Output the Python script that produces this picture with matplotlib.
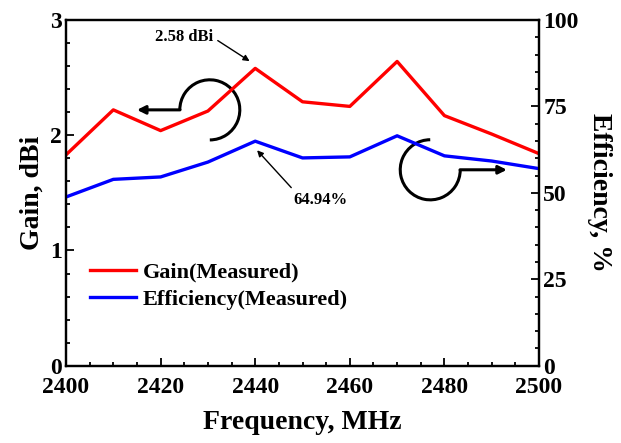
import matplotlib.pyplot as plt
from matplotlib.patches import Arc
from matplotlib.ticker import MultipleLocator

plt.rcParams['font.family'] = ['Liberation Serif', 'DejaVu Serif']
plt.rcParams['font.weight'] = 'bold'

# Данные
freq = [2400, 2410, 2420, 2430, 2440, 2450, 2460, 2470, 2480, 2490, 2500]
gain = [1.83, 2.22, 2.04, 2.21, 2.58, 2.29, 2.25, 2.64, 2.17, 2.01, 1.84]
efficiency = [48.8, 53.9, 54.6, 58.9, 64.94, 60.1, 60.4, 66.5, 60.7, 59.2, 57.0]

fig = plt.figure(figsize=(6.21, 4.43), dpi=100)
ax = fig.add_axes([0.1063, 0.1745, 0.7617, 0.7804])
ax2 = ax.twinx()

l1, = ax.plot(freq, gain, color='#ff0000', lw=2.4, label='Gain(Measured)')
l2, = ax2.plot(freq, efficiency, color='#0000ff', lw=2.4, label='Efficiency(Measured)')

ax.set_xlim(2400, 2500)
ax.set_ylim(0, 3)
ax2.set_ylim(0, 100)
ax.xaxis.set_major_locator(MultipleLocator(20))
ax.xaxis.set_minor_locator(MultipleLocator(5))
ax.yaxis.set_major_locator(MultipleLocator(1))
ax.yaxis.set_minor_locator(MultipleLocator(0.2))
ax2.yaxis.set_major_locator(MultipleLocator(25))
ax2.yaxis.set_minor_locator(MultipleLocator(5))

for a in (ax, ax2):
    for s in a.spines.values():
        s.set_linewidth(1.6)
    a.tick_params(which='both', direction='in', width=1.3, labelsize=17)
    a.tick_params(which='major', length=6)
    a.tick_params(which='minor', length=3)
ax.tick_params(axis='x', which='both', top=False, pad=8)
ax.tick_params(axis='y', which='both', right=False, pad=3)
ax2.tick_params(axis='y', which='both', left=False, pad=3)

ax.set_xlabel('Frequency, MHz', fontsize=20, fontweight='bold', labelpad=9)
ax.set_ylabel('Gain, dBi', fontsize=20, fontweight='bold', labelpad=4)
ax2.set_ylabel('Efficiency, %', fontsize=20, fontweight='bold', rotation=270, labelpad=24)

ax.legend(handles=[l1, l2], loc='center left', bbox_to_anchor=(0.05, 0.23),
          frameon=False, fontsize=16, handlelength=2.1, handletextpad=0.3,
          labelspacing=0.3, borderpad=0, borderaxespad=0)

# Подписи с точками
ax.annotate('2.58 dBi', xy=(2439.3, 2.63), xytext=(2431, 2.85),
            fontsize=12, fontweight='bold', ha='right', va='center',
            arrowprops=dict(arrowstyle='-|>', color='black', lw=1.0,
                            mutation_scale=9, relpos=(1, 0.5)))
ax2.annotate('64.94%', xy=(2440.0, 62.9), xytext=(2453.7, 47.8),
             fontsize=12, fontweight='bold', ha='center', va='center',
             arrowprops=dict(arrowstyle='-|>', color='black', lw=1.0,
                             mutation_scale=9, relpos=(0.05, 1)))

# Круговые стрелки
w = 60 / 4.73
h = 60 / 115
ax.add_patch(Arc((2430.4, 2.22), w, h, theta1=-90, theta2=180, color='black', lw=2.2))
ax.annotate('', xy=(2415.0, 2.22), xytext=(2424.1, 2.22),
            arrowprops=dict(arrowstyle='-|>', color='black', lw=2.2,
                            mutation_scale=12, shrinkA=0, shrinkB=0))
ax.add_patch(Arc((2477.0, 1.70), w, h, theta1=90, theta2=360, color='black', lw=2.2))
ax.annotate('', xy=(2493.2, 1.70), xytext=(2483.3, 1.70),
            arrowprops=dict(arrowstyle='-|>', color='black', lw=2.2,
                            mutation_scale=12, shrinkA=0, shrinkB=0))

fig.savefig('out.png', dpi=100)
